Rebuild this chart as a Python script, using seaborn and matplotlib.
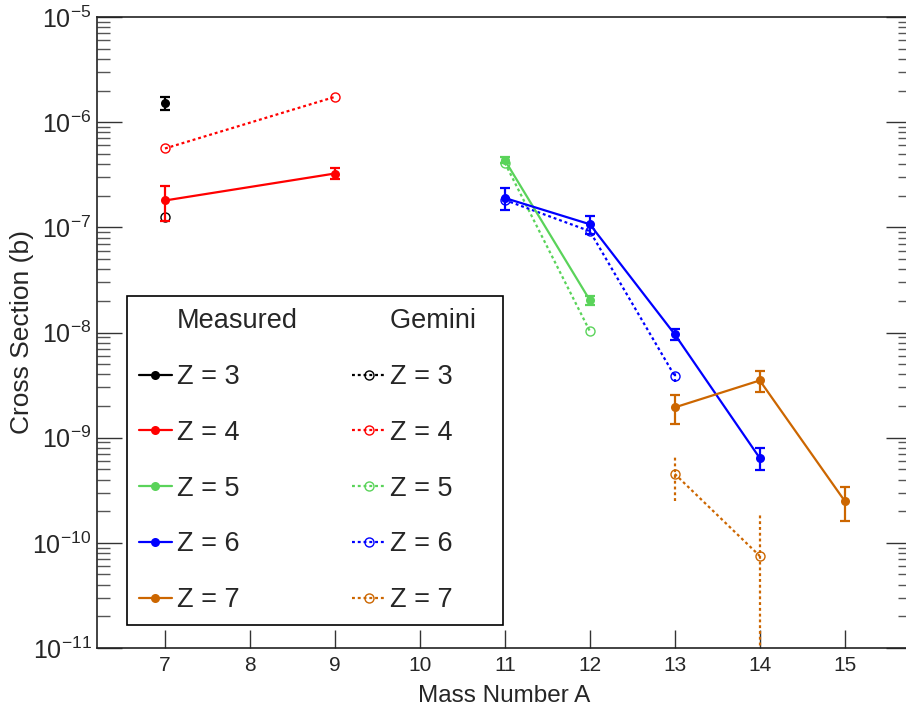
import numpy as np
import matplotlib
matplotlib.use("Agg")
import matplotlib.pyplot as plt
import seaborn as sns
from matplotlib.lines import Line2D
from matplotlib.ticker import FixedLocator, NullLocator, NullFormatter, LogFormatterSciNotation

# Mass numbers and cross sections (b)
charges = [3, 4, 5, 6, 7]
colors = ["#000000", "#ff0000", "#5ad35a", "#0000ff", "#cc6600"]

meas_A = {3: [7], 4: [7, 9], 5: [11, 12], 6: [11, 12, 13, 14], 7: [13, 14, 15]}
meas_xs = {
    3: [1.52e-6],
    4: [1.80e-7, 3.25e-7],
    5: [4.35e-7, 2.03e-8],
    6: [1.90e-7, 1.07e-7, 9.6e-9, 6.4e-10],
    7: [1.94e-9, 3.50e-9, 2.50e-10],
}
meas_err = {
    3: [0.22e-6],
    4: [0.65e-7, 0.39e-7],
    5: [0.30e-7, 0.20e-8],
    6: [0.45e-7, 0.20e-7, 1.2e-9, 1.5e-10],
    7: [0.60e-9, 0.80e-9, 0.90e-10],
}

gem_A = {3: [7], 4: [7, 9], 5: [11, 12], 6: [11, 12, 13], 7: [13, 14]}
gem_xs = {
    3: [1.25e-7],
    4: [5.62e-7, 1.74e-6],
    5: [4.10e-7, 1.03e-8],
    6: [1.82e-7, 9.2e-8, 3.85e-9],
    7: [4.52e-10, 7.5e-11],
}
gem_err = {
    3: [0.0],
    4: [0.0, 0.0],
    5: [0.0, 0.0],
    6: [0.0, 0.0, 0.45e-9],
    7: [2.0e-10, 1.1e-10],
}

x_ticks = list(range(7, 16))
decades = list(range(-11, -4))

sns.set_style("ticks")
plt.rcParams["font.family"] = ["Liberation Sans", "DejaVu Sans"]
plt.rcParams["mathtext.fontset"] = "custom"
plt.rcParams["mathtext.rm"] = "Liberation Sans"
plt.rcParams["mathtext.it"] = "Liberation Sans:italic"
plt.rcParams["mathtext.bf"] = "Liberation Sans:bold"

W, H = 906, 708
fig = plt.figure(figsize=(W / 100, H / 100), dpi=100)
ax = fig.add_axes([97 / W, 60 / H, 814 / W, 631 / H])

dot = (0, (1.3, 1.3))
meas_handles = []
gem_handles = []
for z, c in zip(charges, colors):
    # Gemini calculation (open circles, dotted)
    sns.lineplot(x=gem_A[z], y=gem_xs[z], ax=ax, color=c, linestyle=dot, lw=1.6,
                 marker="o", markersize=6.5, markerfacecolor="none",
                 markeredgecolor=c, markeredgewidth=1.0, sort=False, zorder=3)
    gem_handles.append(ax.lines[-1])
    eb = ax.errorbar(gem_A[z], gem_xs[z], yerr=gem_err[z], fmt="none",
                     ecolor=c, elinewidth=1.6, capsize=0, zorder=3)
    for col in eb[2]:
        col.set_linestyle(dot)

    # Measured (filled circles, solid)
    sns.lineplot(x=meas_A[z], y=meas_xs[z], ax=ax, color=c, lw=1.6,
                 marker="o", markersize=6.5, markeredgewidth=0, sort=False, zorder=4)
    meas_handles.append(ax.lines[-1])
    ax.errorbar(meas_A[z], meas_xs[z], yerr=meas_err[z], fmt="none",
                ecolor=c, elinewidth=1.6, capsize=3.5, capthick=1.6, zorder=4)

ax.set_yscale("log")
ax.set_xlim(6.2, 15.78)
ax.set_ylim(1e-11, 1e-5)

ax.xaxis.set_major_locator(FixedLocator(x_ticks))
ax.xaxis.set_minor_locator(NullLocator())
ax.yaxis.set_major_locator(FixedLocator([10.0 ** d for d in decades]))
ax.yaxis.set_major_formatter(LogFormatterSciNotation())
ax.yaxis.set_minor_locator(FixedLocator([k * 10.0 ** d for d in decades[:-1] for k in range(2, 10)]))
ax.yaxis.set_minor_formatter(NullFormatter())

ax.tick_params(axis="x", which="major", direction="in", length=13, width=1.0,
               labelsize=15, pad=6, top=False, color="#333333")
ax.tick_params(axis="y", which="major", direction="in", length=18, width=1.0,
               labelsize=18, pad=4, left=True, right=True, color="#333333")
ax.tick_params(axis="y", which="minor", direction="in", length=9.4, width=1.0,
               left=True, right=True, color="#555555")

for s in ax.spines.values():
    s.set_visible(True)
    s.set_linewidth(1.2)
    s.set_color("#222222")

ax.set_xlabel("Mass Number A", fontsize=17.5, labelpad=7)
ax.set_ylabel("Cross Section (b)", fontsize=19, labelpad=-1)

blank = Line2D([], [], linestyle="none")
handles = [blank] + meas_handles + [blank] + gem_handles
labels = ["Measured"] + [f"Z = {z}" for z in charges] + ["Gemini  "] + [f"Z = {z}" for z in charges]
leg = ax.legend(handles, labels, ncol=2, loc="upper left",
                bbox_to_anchor=(127 / W, (H - 296) / H), bbox_transform=fig.transFigure,
                fontsize=19.5, frameon=True, fancybox=False, edgecolor="black",
                framealpha=1, borderpad=0.45, labelspacing=1.1, handlelength=1.2,
                handletextpad=0.2, columnspacing=2.0, borderaxespad=0)
leg.get_frame().set_linewidth(1.2)

fig.savefig("out.png", dpi=100)
